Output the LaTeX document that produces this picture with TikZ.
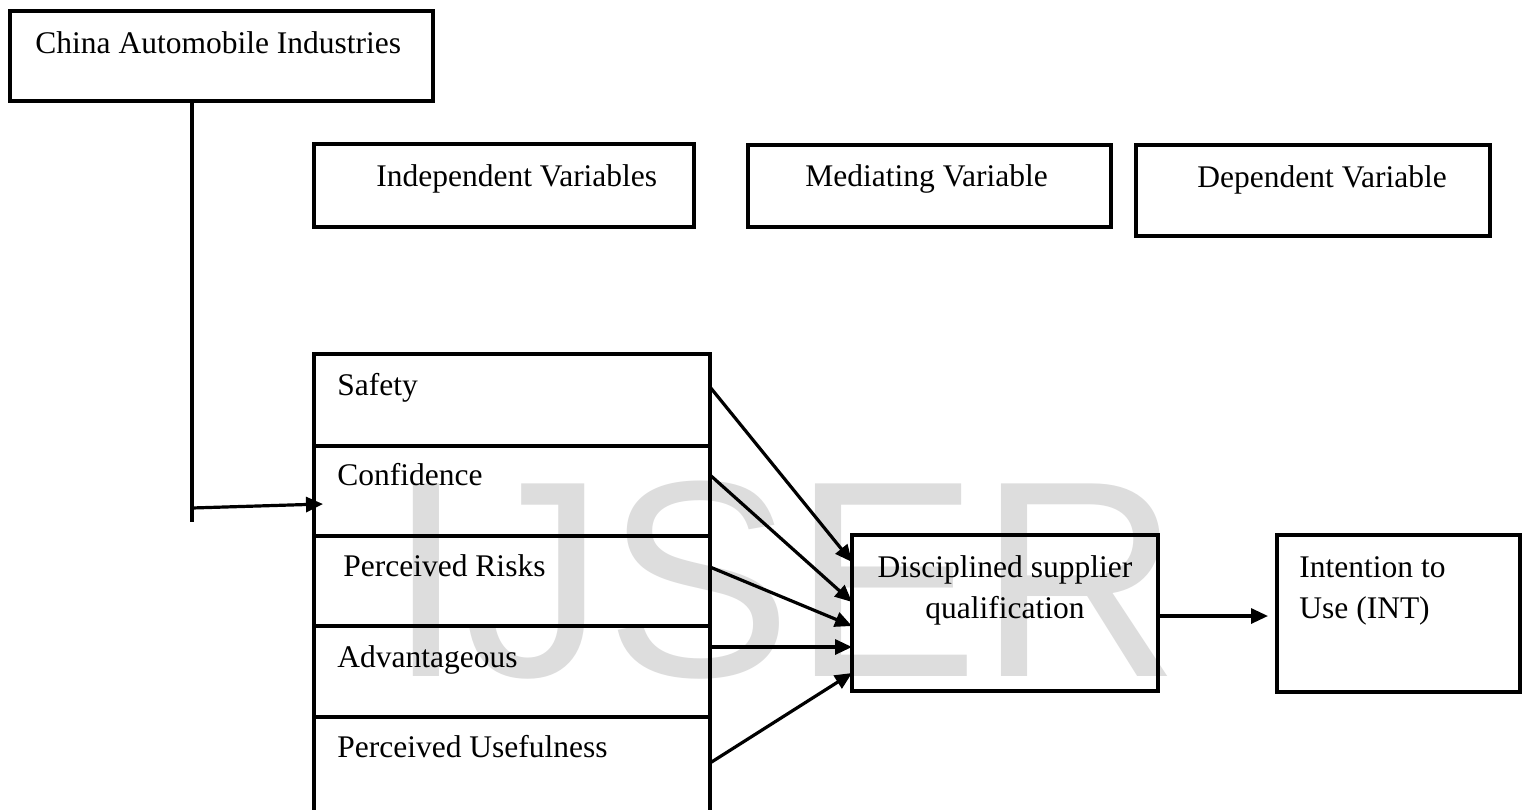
\documentclass[tikz,border=0pt]{standalone}
\usepackage{fontspec}
\setmainfont{Liberation Serif}
\newfontfamily\wmfont{Liberation Sans}
\usetikzlibrary{arrows.meta}
\definecolor{wm}{RGB}{221,221,221}
\begin{document}
\begin{tikzpicture}[x=0.5pt,y=-0.5pt,
  box/.style={draw, line width=2pt, inner sep=0pt, outer sep=0pt, anchor=north west},
  txt/.style={anchor=base west, inner sep=0pt, font=\fontsize{15.75pt}{20.5pt}\selectfont},
  ctxt/.style={anchor=base, inner sep=0pt, font=\fontsize{15.75pt}{20.5pt}\selectfont},
  arr/.style={line width=1.6pt, -{Triangle[length=8.5pt,width=7.5pt]}},
  ln/.style={line width=1.75pt}]
\clip (0,0) rectangle (1524,809);
\fill[white] (0,0) rectangle (1524,809);
% watermark
\node[anchor=base west, inner sep=0pt, font=\wmfont\fontsize{140pt}{140pt}\selectfont, text=wm] (wm) at (387,676) {IJSER};
% boxes
\node[box, minimum width=211.5pt, minimum height=45pt] (china) at (10,11) {};
\node[box, minimum width=190pt, minimum height=41.5pt] (indep) at (314,144) {};
\node[box, minimum width=181.5pt, minimum height=41pt] (medi) at (748,145) {};
\node[box, minimum width=177pt, minimum height=45.5pt] (dep) at (1136,145) {};
\node[box, minimum width=198pt, minimum height=46pt] (safety) at (314,354) {};
\node[box, minimum width=198pt, minimum height=45pt] (conf) at (314,446) {};
\node[box, minimum width=198pt, minimum height=45pt] (risk) at (314,536) {};
\node[box, minimum width=198pt, minimum height=45.5pt] (adv) at (314,626) {};
\node[box, minimum width=198pt, minimum height=56pt] (useful) at (314,717) {};
\node[box, minimum width=153pt, minimum height=78pt] (dsq) at (852,535) {};
\node[box, minimum width=121.5pt, minimum height=78.5pt] (int) at (1277,535) {};
% texts
\node[txt] (tchina) at (35,53) {China Automobile Industries};
\node[txt] (tindep) at (376,186) {Independent Variables};
\node[txt] (tmedi) at (805,186) {Mediating Variable};
\node[txt] (tdep) at (1197,187) {Dependent Variable};
\node[txt] (tsafety) at (337,395) {Safety};
\node[txt] (tconf) at (337,485) {Confidence};
\node[txt] (trisk) at (343,576) {Perceived Risks};
\node[txt] (tadv) at (337,667) {Advantageous};
\node[txt] (tuseful) at (337,757) {Perceived Usefulness};
\node[ctxt] (tdsq1) at (1005,577) {Disciplined supplier};
\node[ctxt] (tdsq2) at (1005,618) {qualification};
\node[txt] (tint1) at (1299,577) {Intention to};
\node[txt] (tint2) at (1299,618) {Use (INT)};
% connectors
\coordinate (vend) at (192,522);
\coordinate (branch) at (192,508);
\draw[ln] (china.south -| vend) -- (vend);
\draw[arr] (branch) -- ([xshift=4.5pt,yshift=-6.5pt]conf.west);
\draw[arr] ([yshift=6.5pt]safety.east) -- ([yshift=25.5pt]dsq.west);
\draw[arr] ([yshift=8pt]conf.east) -- ([yshift=5.5pt]dsq.west);
\draw[arr] ([yshift=7pt]risk.east) -- ([yshift=-6.5pt]dsq.west);
\draw[arr] ([yshift=12.25pt]adv.east) -- ([yshift=-17pt]dsq.west);
\draw[arr] ([yshift=5pt]useful.east) -- ([yshift=-30pt]dsq.west);
\draw[arr] ([yshift=-1.5pt]dsq.east) -- ([xshift=-4.5pt,yshift=-1.25pt]int.west);
\end{tikzpicture}
\end{document}
